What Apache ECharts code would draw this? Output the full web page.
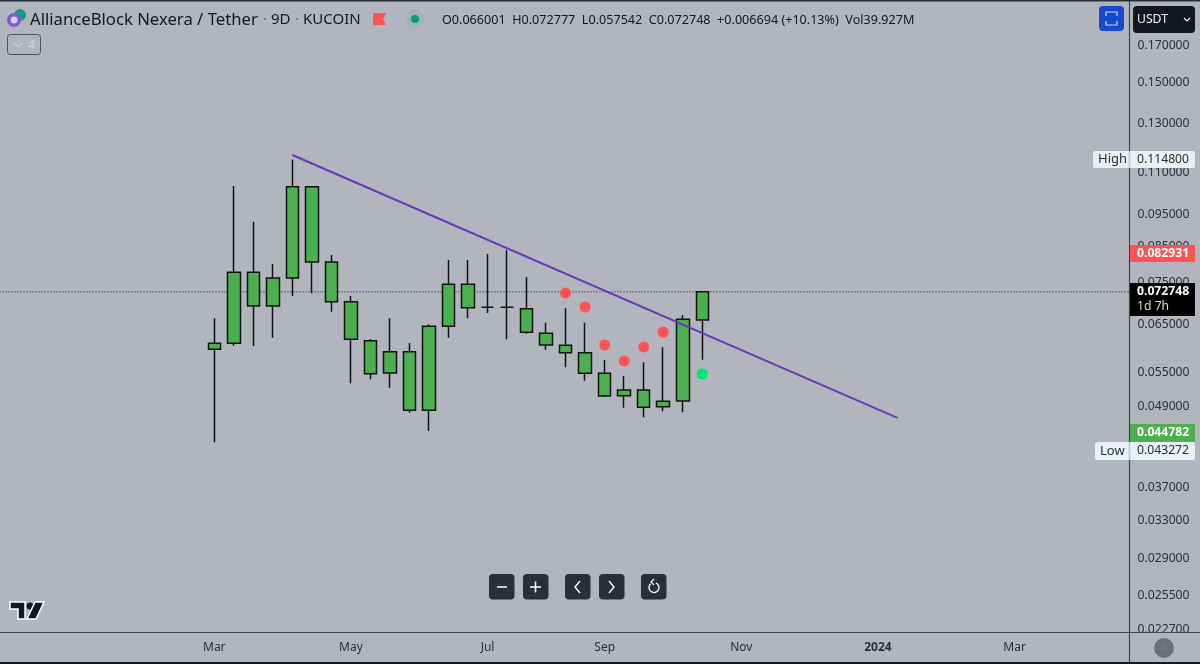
<!DOCTYPE html>
<html><head><meta charset="utf-8">
<style>html,body{margin:0;padding:0;background:#b2b5be;overflow:hidden}#c{width:1200px;height:664px}</style>
<script src="https://cdn.jsdelivr.net/npm/echarts@6/dist/echarts.min.js"></script>
</head><body><div id="c"></div>
<script>
// time slots: one per 9D bar, with the month tick names where the axis shows them
const categories = ['','','','','','','','','','','','Mar','','','','','','','May','','','','','','','Jul','','','','','','Sep','','','','','','','Nov','','','','','','','2024','','','','','','','Mar','','','','','',''];
const firstBar = 11;
// [open, close, low, high]
const candles = [
 [0.05965,0.06090,0.043272,0.06639],
 [0.06090,0.07782,0.06040,0.10483],
 [0.06927,0.07782,0.06033,0.09267],
 [0.06927,0.07630,0.06208,0.08008],
 [0.07630,0.10458,0.07170,0.1148],
 [0.08063,0.10458,0.07237,0.10483],
 [0.07030,0.08063,0.06792,0.08260],
 [0.06174,0.07030,0.05304,0.07170],
 [0.05483,0.06144,0.05378,0.06181],
 [0.05496,0.05916,0.05224,0.06639],
 [0.04832,0.05916,0.04792,0.06096],
 [0.04832,0.06458,0.04499,0.06503],
 [0.06458,0.07465,0.06208,0.08119],
 [0.06886,0.07465,0.06639,0.08119],
 [0.06896,0.06896,0.06761,0.08289],
 [0.06896,0.06896,0.06174,0.08405],
 [0.06325,0.06862,0.06295,0.07656],
 [0.06054,0.06303,0.05957,0.06539],
 [0.05895,0.06048,0.05605,0.06872],
 [0.05490,0.05895,0.05352,0.06539],
 [0.05076,0.05490,0.05059,0.05749],
 [0.05081,0.05182,0.04876,0.05439],
 [0.04882,0.05182,0.04716,0.05703],
 [0.04892,0.04985,0.04815,0.06006],
 [0.04989,0.06616,0.04798,0.06715],
 [0.066001,0.072748,0.057542,0.072777]
];
const redDots = [[29,0.07245],[30,0.06903],[31,0.06054],[32,0.05728],[33,0.06013],[34,0.06332]];
const greenDots = [[36,0.05477]];
const trendLine = [[15,0.11667],[46,0.04706]];
const lastPriceLine = [[0,0.072748],[58,0.072748]];
const priceTicks = [0.17,0.15,0.13,0.11,0.095,0.085,0.075,0.065,0.055,0.049,0.037,0.033,0.029,0.0255,0.0227];
const ohlcText = 'O0.066001  H0.072777  L0.057542  C0.072748  +0.006694 (+10.13%)  Vol39.927M';

const FONT = '"Noto Sans"';
const INK = '#2a2e39';
const AX = 12.2;
const rect = (x,y,w,h,fill,r,z) => ({type:'rect',shape:{x,y,width:w,height:h,r:r||0},style:{fill},z:z||10,silent:true});
const txt = (x,y,t,size,fill,extra) => ({type:'text',x,y,style:{text:t,font:(extra&&extra.weight||'normal')+' '+size+'px '+FONT,fill,textVerticalAlign:'middle',textAlign:extra&&extra.align||'left'},z:12,silent:true});
const hline = (x1,y1,x2,y2,stroke,w,z) => ({type:'line',shape:{x1,y1,x2,y2},style:{stroke,lineWidth:w||1},z:z||11,silent:true});
const circ = (cx,cy,r,fill,z) => ({type:'circle',shape:{cx,cy,r},style:{fill},z:z||11,silent:true});
const poly = (points,stroke,w) => ({type:'polyline',shape:{points},style:{fill:'none',stroke,lineWidth:w||1.3},z:12,silent:true});
const G = '#f0f3fa';

const graphics = [
  // panel chrome
  rect(0,633,1200,31,'#b2b5be',0,5),
  hline(0,632.5,1200,632.5,'#434651',1.2),
  hline(1129.5,0,1129.5,664,'#434651',1.2),
  rect(0,0,1200,1.5,'#2a2e39',0,11),
  rect(0,662,1200,2,'#131722',0,11),
  // symbol legend
  circ(20,15,6,'#0f9d8a'), circ(14,20,7,'#7b5cd6'), circ(14,20,3.5,'#d9cffb',12),
  txt(30,20,'AllianceBlock Nexera / Tether',16.7,'#131722'),
  txt(263,20,'·',14,'#6a6d78'),
  txt(271,20,'9D',15,'#131722'),
  txt(295,20,'·',14,'#6a6d78'),
  txt(303,20,'KUCOIN',15,'#131722'),
  {type:'polygon',shape:{points:[[373,13],[386,13],[383,19],[386,25],[373,25]]},style:{fill:'#ff5252'},z:11,silent:true},
  circ(415,19,9,'#9fb5b4'), circ(415,19,4,'#089981',12),
  txt(442,20,ohlcText,12.6,'#131722'),
  {type:'rect',shape:{x:7.5,y:34.5,width:33,height:20,r:3},style:{fill:'none',stroke:'#50535e',lineWidth:1},z:11,silent:true},
  poly([[14,43],[18,47],[22,43]],'#d1d4dc',1),
  txt(28,45,'4',13,'#d1d4dc'),
  // top right controls
  rect(1099,6,25,25,'#1848cc',4),
  poly([[1106,16],[1106,12],[1117,12],[1117,16]],'#c9d6f5',1.2),
  poly([[1106,21],[1106,25],[1117,25],[1117,21]],'#c9d6f5',1.2),
  rect(1133,6,62,27,'#131722',4),
  txt(1137,20,'USDT',AX,G),
  poly([[1184,18],[1187,21],[1190,18]],G,1.2),
  // price tags
  rect(1093,151,102,17,'#e8f1fb',2),
  txt(1098,159.5,'High',13,INK), hline(1129.5,151,1129.5,168,'#c4ccd8',1,11), txt(1137,159.5,'0.114800',AX,INK),
  rect(1129,245,66,17,'#ff5252',0), txt(1137,254,'0.082931',AX,'#ffffff',{weight:'bold'}),
  rect(1129,283,66,33,'#000000',0), txt(1137,292,'0.072748',AX,'#ffffff',{weight:'bold'}), txt(1137,306.5,'1d 7h',AX,'#d8d8d8'),
  rect(1129,424,66,18,'#4caf50',0), txt(1137,433,'0.044782',AX,'#ffffff',{weight:'bold'}),
  rect(1095,442,100,18,'#e8f1fb',2),
  txt(1100,451,'Low',13,INK), hline(1129.5,442,1129.5,460,'#c4ccd8',1,11), txt(1137,451,'0.043272',AX,INK),
  circ(1164,648,10,'#6a6d78'), txt(1164,648,'A',11,'#777a85',{align:'center'}),
  // zoom/pan buttons
  rect(489,574,25.5,25.5,'#2a2e39',4), poly([[497,587],[507,587]],G,1.6),
  rect(523,574,25.5,25.5,'#2a2e39',4), poly([[530,587],[541,587]],G,1.6), poly([[535.5,581.5],[535.5,592.5]],G,1.6),
  rect(565,574,25.5,25.5,'#2a2e39',4), poly([[580,581],[575,587],[580,593]],G,1.5),
  rect(599,574,25.5,25.5,'#2a2e39',4), poly([[609,581],[614,587],[609,593]],G,1.5),
  rect(641,574,25.5,25.5,'#2a2e39',4),
  {type:'arc',shape:{cx:654,cy:587.5,r:5,startAngle:-1.2,endAngle:4.0},style:{fill:'none',stroke:G,lineWidth:1.4},z:12,silent:true},
  poly([[654,579],[651,582],[654,585]],G,1.3),
  // TradingView mark
  {type:'polygon',shape:{points:[[10,602],[25,602],[25,619],[18,619],[18,609],[10,609]]},style:{fill:'#131722',stroke:'#ffffff',lineWidth:1.5},z:11,silent:true},
  circ(30,606,3.5,'#131722'),
  {type:'polygon',shape:{points:[[35,602],[44,602],[36,619],[27,619]]},style:{fill:'#131722',stroke:'#ffffff',lineWidth:1.5},z:11,silent:true}
];

const chart = echarts.init(document.getElementById('c'),null,{renderer:'canvas'});
chart.setOption({
  animation:false,
  backgroundColor:'#b2b5be',
  grid:{left:-10.2,width:1151.68,top:0,height:632,outerBoundsMode:'none',containLabel:false},
  xAxis:{type:'category',data:categories,boundaryGap:true,z:6,
    axisLine:{show:false},axisTick:{show:false},splitLine:{show:false},
    axisLabel:{interval:0,margin:10,fontFamily:FONT,fontSize:12,color:INK,hideOverlap:false,
      formatter:v=>v==='2024'?'{b|2024}':v,rich:{b:{fontWeight:'bold',fontFamily:FONT,fontSize:12,color:INK}}}},
  yAxis:{type:'log',logBase:10,position:'right',min:0.02247,max:0.19927,
    axisLine:{show:false},axisTick:{show:false},splitLine:{show:false},minorTick:{show:false},
    axisLabel:{customValues:priceTicks,margin:-4,align:'left',fontFamily:FONT,fontSize:AX,color:INK,showMinLabel:true,showMaxLabel:true,
      formatter:v=>Number(v).toFixed(6)}},
  series:[
    {type:'line',data:lastPriceLine,showSymbol:false,symbol:'none',silent:true,lineStyle:{color:'#131722',type:[1,2],width:1},z:1},
    {type:'candlestick',barWidth:13,
      data:candles.map((c,i)=>[i+firstBar,c[0],c[1],c[2],c[3]]),
      encode:{x:0,y:[1,2,3,4]},
      itemStyle:{color:'#4caf50',color0:'#4caf50',borderColor:'#10140f',borderColor0:'#10140f',borderWidth:1.5},z:2},
    {type:'line',data:trendLine,showSymbol:false,symbol:'none',lineStyle:{color:'#673ab7',width:2},z:4},
    {type:'scatter',data:redDots,symbolSize:11,itemStyle:{color:'#ff5252',opacity:1},z:5},
    {type:'scatter',data:greenDots,symbolSize:11,itemStyle:{color:'#00e676',opacity:1},z:5}
  ],
  graphic:{elements:graphics}
});
</script></body></html>
